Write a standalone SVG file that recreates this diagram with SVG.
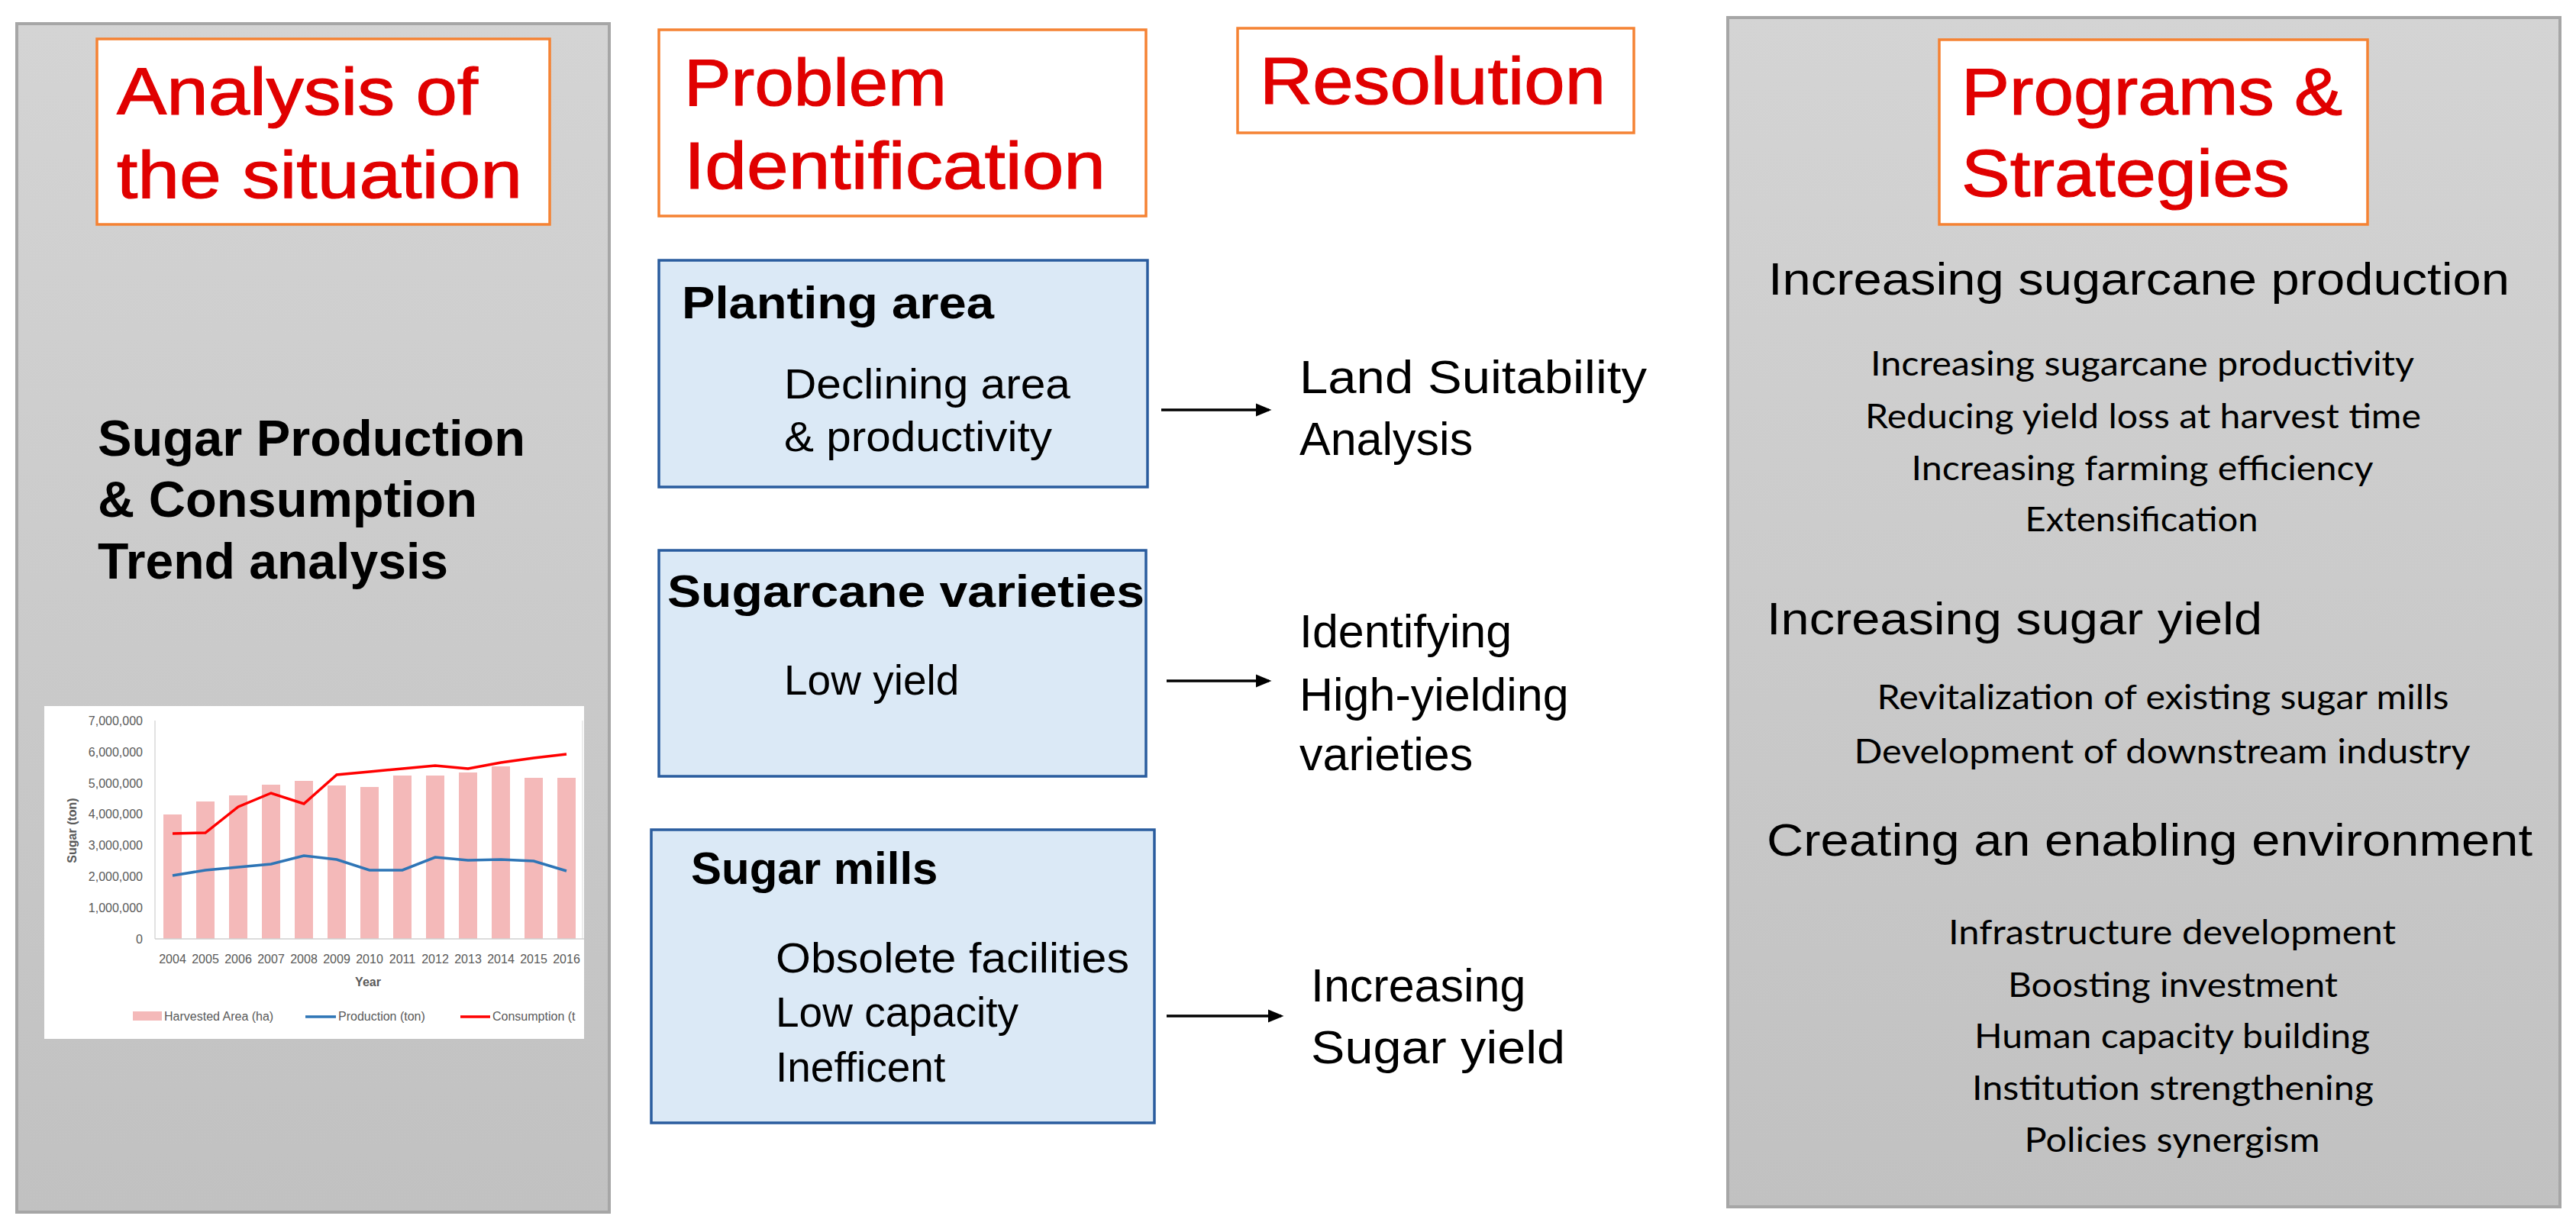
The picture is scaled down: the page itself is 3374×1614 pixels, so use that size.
<svg xmlns="http://www.w3.org/2000/svg" width="3374" height="1614" viewBox="0 0 3374 1614">
<style>
.sans{font-family:"Liberation Sans",Arial,sans-serif}
.title{font-family:"Liberation Sans",Arial,sans-serif;font-size:88px;fill:#e00000;stroke:#e00000;stroke-width:1.2}
.panel{stroke:#a6a6a6;stroke-width:4;fill:url(#grayGrad)}
.tbox{fill:#ffffff;stroke:#f58233;stroke-width:3.5}
.bbox{fill:#dbe9f6;stroke:#2a5c9e;stroke-width:3.5}
.head{font-family:"Liberation Sans",Arial,sans-serif;font-size:60px;font-weight:bold;fill:#000}
.body{font-family:"Liberation Sans",Arial,sans-serif;font-size:55px;fill:#000}
.res{font-family:"Liberation Sans",Arial,sans-serif;font-size:61px;fill:#000}
.strat{font-family:"Liberation Sans",Arial,sans-serif;font-size:60px;fill:#000}
.item{font-family:Lato,"Open Sans",sans-serif;font-size:45px;fill:#000;text-anchor:middle}
.conn{stroke:#000;stroke-width:3.5;fill:none;marker-end:url(#arrow)}
.axl{font-family:"Liberation Sans",Arial,sans-serif;font-size:16px;fill:#595959}
.bar{fill:#f4b9b9}
</style>
<defs>
<linearGradient id="grayGrad" x1="0" y1="0" x2="0" y2="1">
<stop offset="0" stop-color="#d4d4d4"/>
<stop offset="1" stop-color="#c1c1c1"/>
</linearGradient>
<marker id="arrow" markerWidth="6" markerHeight="5" refX="5" refY="2.5" orient="auto" markerUnits="strokeWidth">
<path d="M0,0 L6,2.5 L0,5 Z" fill="#000"/>
</marker>
<clipPath id="chartClip"><rect x="58" y="925" width="707" height="436"/></clipPath>
</defs>

<g id="panel-analysis">
<rect class="panel" x="22" y="31" width="776" height="1557"/>
</g>
<g id="title-analysis">
<rect class="tbox" x="127" y="51" width="593" height="243"/>
<text class="title" x="153" y="150" textLength="473" lengthAdjust="spacingAndGlyphs">Analysis of</text>
<text class="title" x="153" y="259" textLength="531" lengthAdjust="spacingAndGlyphs">the situation</text>
</g>
<g id="trend-text">
<text class="sans" font-size="66" font-weight="bold" x="128" y="597" textLength="560" lengthAdjust="spacingAndGlyphs">Sugar Production</text>
<text class="sans" font-size="66" font-weight="bold" x="128" y="677" textLength="497" lengthAdjust="spacingAndGlyphs">&amp; Consumption</text>
<text class="sans" font-size="66" font-weight="bold" x="128" y="758" textLength="459" lengthAdjust="spacingAndGlyphs">Trend analysis</text>
</g>
<g id="chart">
<rect x="58" y="925" width="707" height="436" fill="#ffffff"/>
<g clip-path="url(#chartClip)">
<g class="axl" text-anchor="end" font-size="17">
<text x="187" y="950">7,000,000</text>
<text x="187" y="991">6,000,000</text>
<text x="187" y="1032">5,000,000</text>
<text x="187" y="1072">4,000,000</text>
<text x="187" y="1113">3,000,000</text>
<text x="187" y="1154">2,000,000</text>
<text x="187" y="1195">1,000,000</text>
<text x="187" y="1236">0</text>
</g>
<g>
<rect class="bar" x="214" y="1067" width="24" height="163"/>
<rect class="bar" x="257" y="1050" width="24" height="180"/>
<rect class="bar" x="300" y="1042" width="24" height="188"/>
<rect class="bar" x="343" y="1028" width="24" height="202"/>
<rect class="bar" x="386" y="1023" width="24" height="207"/>
<rect class="bar" x="429" y="1029" width="24" height="201"/>
<rect class="bar" x="472" y="1031" width="24" height="199"/>
<rect class="bar" x="515" y="1016" width="24" height="214"/>
<rect class="bar" x="558" y="1016" width="24" height="214"/>
<rect class="bar" x="601" y="1012" width="24" height="218"/>
<rect class="bar" x="644" y="1004" width="24" height="226"/>
<rect class="bar" x="687" y="1019" width="24" height="211"/>
<rect class="bar" x="730" y="1019" width="24" height="211"/>
</g>
<line x1="203" y1="944" x2="203" y2="1230" stroke="#d9d9d9" stroke-width="1.5"/>
<line x1="763" y1="944" x2="763" y2="1230" stroke="#e6e6e6" stroke-width="1.5"/>
<line x1="203" y1="1230" x2="765" y2="1230" stroke="#d0d0d0" stroke-width="1.5"/>
<polyline points="226,1147 269,1140 312,1136 355,1132 398,1121 441,1126 484,1140 527,1140 570,1123 613,1127 656,1126 699,1128 742,1141" fill="none" stroke="#2e75b6" stroke-width="3.5"/>
<polyline points="226,1092 269,1091 312,1057 355,1039 398,1053 441,1015 484,1011 527,1007 570,1003 613,1007 656,999 699,993 742,988" fill="none" stroke="#ff0000" stroke-width="3.5"/>
<g class="axl" text-anchor="middle">
<text x="226" y="1262">2004</text>
<text x="269" y="1262">2005</text>
<text x="312" y="1262">2006</text>
<text x="355" y="1262">2007</text>
<text x="398" y="1262">2008</text>
<text x="441" y="1262">2009</text>
<text x="484" y="1262">2010</text>
<text x="527" y="1262">2011</text>
<text x="570" y="1262">2012</text>
<text x="613" y="1262">2013</text>
<text x="656" y="1262">2014</text>
<text x="699" y="1262">2015</text>
<text x="742" y="1262">2016</text>
</g>
<text class="axl" x="482" y="1292" text-anchor="middle" font-weight="bold" fill="#404040">Year</text>
<text class="axl" transform="translate(100,1088) rotate(-90)" text-anchor="middle" font-weight="bold" fill="#404040">Sugar (ton)</text>
<rect x="174" y="1325" width="38" height="12" fill="#f4b9b9"/>
<text class="axl" x="215" y="1337">Harvested Area (ha)</text>
<line x1="400" y1="1332" x2="440" y2="1332" stroke="#2e75b6" stroke-width="3.5"/>
<text class="axl" x="443" y="1337">Production (ton)</text>
<line x1="603" y1="1332" x2="642" y2="1332" stroke="#ff0000" stroke-width="3.5"/>
<text class="axl" x="645" y="1337">Consumption (t</text>
</g>
</g>

<g id="title-problem">
<rect class="tbox" x="863" y="39" width="638" height="244"/>
<text class="title" x="896" y="138" textLength="344" lengthAdjust="spacingAndGlyphs">Problem</text>
<text class="title" x="896" y="247" textLength="552" lengthAdjust="spacingAndGlyphs">Identification</text>
</g>
<g id="title-resolution">
<rect class="tbox" x="1621" y="37" width="519" height="137"/>
<text class="title" x="1650" y="136" textLength="453" lengthAdjust="spacingAndGlyphs">Resolution</text>
</g>

<g id="node-planting">
<rect class="bbox" x="863" y="341" width="640" height="297"/>
<text class="head" x="893" y="417" textLength="409" lengthAdjust="spacingAndGlyphs">Planting area</text>
<text class="body" x="1027" y="522" textLength="375" lengthAdjust="spacingAndGlyphs">Declining area</text>
<text class="body" x="1027" y="591" textLength="351" lengthAdjust="spacingAndGlyphs">&amp; productivity</text>
</g>
<g id="node-varieties">
<rect class="bbox" x="863" y="721" width="638" height="296"/>
<text class="head" x="874" y="795" textLength="625" lengthAdjust="spacingAndGlyphs">Sugarcane varieties</text>
<text class="body" x="1027" y="910">Low yield</text>
</g>
<g id="node-mills">
<rect class="bbox" x="853" y="1087" width="659" height="384"/>
<text class="head" x="905" y="1158">Sugar mills</text>
<text class="body" x="1016" y="1274" textLength="463" lengthAdjust="spacingAndGlyphs">Obsolete facilities</text>
<text class="body" x="1016" y="1345">Low capacity</text>
<text class="body" x="1016" y="1417">Inefficent</text>
</g>

<g id="res-land">
<text class="res" x="1702" y="515" textLength="455" lengthAdjust="spacingAndGlyphs">Land Suitability</text>
<text class="res" x="1702" y="596">Analysis</text>
</g>
<g id="res-varieties">
<text class="res" x="1702" y="848">Identifying</text>
<text class="res" x="1702" y="931">High-yielding</text>
<text class="res" x="1702" y="1009">varieties</text>
</g>
<g id="res-sugar">
<text class="res" x="1717" y="1312">Increasing</text>
<text class="res" x="1717" y="1393" textLength="333" lengthAdjust="spacingAndGlyphs">Sugar yield</text>
</g>

<g id="connectors">
<line class="conn" x1="1521" y1="537" x2="1662" y2="537"/>
<line class="conn" x1="1528" y1="892" x2="1662" y2="892"/>
<line class="conn" x1="1528" y1="1331" x2="1678" y2="1331"/>
</g>

<g id="panel-programs">
<rect class="panel" x="2263" y="23" width="1090" height="1558"/>
</g>
<g id="title-programs">
<rect class="tbox" x="2540" y="52" width="561" height="242"/>
<text class="title" x="2569" y="150" textLength="499" lengthAdjust="spacingAndGlyphs">Programs &amp;</text>
<text class="title" x="2569" y="257" textLength="430" lengthAdjust="spacingAndGlyphs">Strategies</text>
</g>
<g id="strategy-production">
<text class="strat" x="2316" y="386" textLength="971" lengthAdjust="spacingAndGlyphs">Increasing sugarcane production</text>
<text class="item" x="2806" y="492" textLength="712" lengthAdjust="spacingAndGlyphs">Increasing sugarcane productivity</text>
<text class="item" x="2807" y="561" textLength="728" lengthAdjust="spacingAndGlyphs">Reducing yield loss at harvest time</text>
<text class="item" x="2806" y="629" textLength="605" lengthAdjust="spacingAndGlyphs">Increasing farming efficiency</text>
<text class="item" x="2805" y="696" textLength="305" lengthAdjust="spacingAndGlyphs">Extensification</text>
</g>
<g id="strategy-yield">
<text class="strat" x="2314" y="831" textLength="649" lengthAdjust="spacingAndGlyphs">Increasing sugar yield</text>
<text class="item" x="2833" y="929" textLength="749" lengthAdjust="spacingAndGlyphs">Revitalization of existing sugar mills</text>
<text class="item" x="2832" y="1000" textLength="807" lengthAdjust="spacingAndGlyphs">Development of downstream industry</text>
</g>
<g id="strategy-environment">
<text class="strat" x="2314" y="1121" textLength="1003" lengthAdjust="spacingAndGlyphs">Creating an enabling environment</text>
<text class="item" x="2845" y="1237" textLength="586" lengthAdjust="spacingAndGlyphs">Infrastructure development</text>
<text class="item" x="2846" y="1306" textLength="432" lengthAdjust="spacingAndGlyphs">Boosting investment</text>
<text class="item" x="2845" y="1373" textLength="518" lengthAdjust="spacingAndGlyphs">Human capacity building</text>
<text class="item" x="2846" y="1441" textLength="526" lengthAdjust="spacingAndGlyphs">Institution strengthening</text>
<text class="item" x="2845" y="1509" textLength="387" lengthAdjust="spacingAndGlyphs">Policies synergism</text>
</g>
</svg>
